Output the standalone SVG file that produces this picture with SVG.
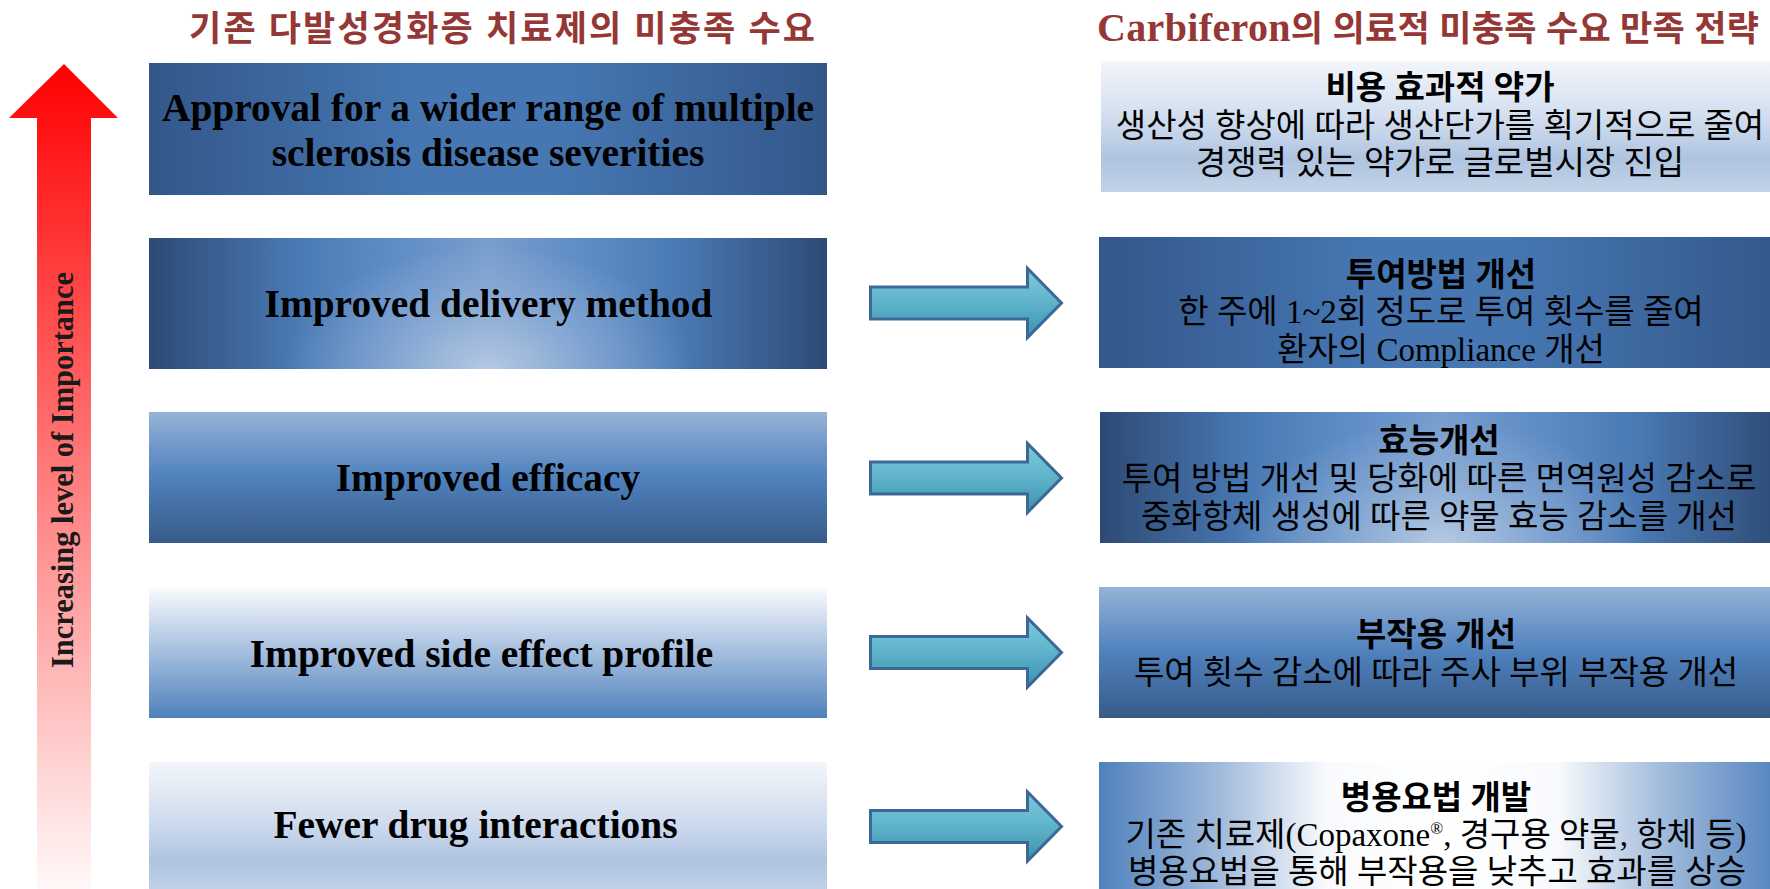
<svg xmlns="http://www.w3.org/2000/svg" width="1770" height="889" viewBox="0 0 1770 889">
  <defs>
    <style>
      .title { font-family: "Liberation Serif", "Noto Sans CJK KR", serif; font-weight: 700; font-size: 35px; fill: #953735; }
      .need { font-family: "Liberation Serif", serif; font-weight: 700; font-size: 39.4px; fill: #000; text-anchor: middle; }
      .sh { font-family: "Liberation Serif", "Noto Sans CJK KR", sans-serif; font-weight: 700; font-size: 33px; fill: #000; text-anchor: middle; }
      .sb { font-family: "Liberation Serif", "Noto Sans CJK KR", sans-serif; font-weight: 400; font-size: 33px; fill: #000; text-anchor: middle; }
      .axis { font-family: "Liberation Serif", serif; font-weight: 700; font-size: 32px; fill: #1a1a1a; text-anchor: middle; }
      .link { fill: url(#gTeal); stroke: #3b6897; stroke-width: 3; stroke-linejoin: miter; }
    </style>
    <!-- steel blue, darker at the sides -->
    <linearGradient id="gSteel" x1="0" y1="0" x2="1" y2="0">
      <stop offset="0" stop-color="#33578a"/>
      <stop offset="0.4" stop-color="#4677b3"/>
      <stop offset="0.6" stop-color="#4677b3"/>
      <stop offset="1" stop-color="#33578a"/>
    </linearGradient>
    <!-- dark sides, glowing middle -->
    <linearGradient id="gGlowH" x1="0" y1="0" x2="1" y2="0">
      <stop offset="0" stop-color="#2d4a74"/>
      <stop offset="0.22" stop-color="#4a7ab5"/>
      <stop offset="0.36" stop-color="#5e8cc6"/>
      <stop offset="0.5" stop-color="#789ecd"/>
      <stop offset="0.64" stop-color="#5e8cc6"/>
      <stop offset="0.78" stop-color="#4a7ab5"/>
      <stop offset="1" stop-color="#2d4a74"/>
    </linearGradient>
    <radialGradient id="gGlowSpot" cx="0" cy="0" r="1" gradientTransform="matrix(0.3 0 0 0.95 0.5 1)">
      <stop offset="0" stop-color="#b8cbe4" stop-opacity="0.95"/>
      <stop offset="0.5" stop-color="#a3bcdc" stop-opacity="0.5"/>
      <stop offset="1" stop-color="#a3bcdc" stop-opacity="0"/>
    </radialGradient>
    <!-- light top, deep bottom -->
    <linearGradient id="gDeep" x1="0" y1="0" x2="0" y2="1">
      <stop offset="0" stop-color="#95b3d7"/>
      <stop offset="0.5" stop-color="#4f81bd"/>
      <stop offset="1" stop-color="#375b88"/>
    </linearGradient>
    <!-- white fading into blue -->
    <linearGradient id="gFade" x1="0" y1="0" x2="0" y2="1">
      <stop offset="0" stop-color="#f8fafd"/>
      <stop offset="1" stop-color="#4f81bd"/>
    </linearGradient>
    <!-- pale blue wash -->
    <linearGradient id="gPale" x1="0" y1="0" x2="0" y2="1">
      <stop offset="0" stop-color="#f3f6fb"/>
      <stop offset="0.45" stop-color="#d0dcee"/>
      <stop offset="0.75" stop-color="#afc4e0"/>
      <stop offset="1" stop-color="#c3d3e8"/>
    </linearGradient>
    <!-- blue sides, white centre -->
    <linearGradient id="gWhiteMid" x1="0" y1="0" x2="1" y2="0">
      <stop offset="0" stop-color="#4f81bd"/>
      <stop offset="0.18" stop-color="#a3bcdc"/>
      <stop offset="0.33" stop-color="#f8fafd"/>
      <stop offset="0.5" stop-color="#ffffff"/>
      <stop offset="0.67" stop-color="#f8fafd"/>
      <stop offset="0.82" stop-color="#a3bcdc"/>
      <stop offset="1" stop-color="#4f81bd"/>
    </linearGradient>
    <linearGradient id="gTeal" x1="0" y1="0" x2="0" y2="1">
      <stop offset="0" stop-color="#7fcadd"/>
      <stop offset="0.5" stop-color="#5eb3ca"/>
      <stop offset="1" stop-color="#3b91ad"/>
    </linearGradient>
    <linearGradient id="gRed" gradientUnits="userSpaceOnUse" x1="0" y1="64" x2="0" y2="889">
      <stop offset="0" stop-color="#ff0000"/>
      <stop offset="1" stop-color="#fff8f8"/>
    </linearGradient>
  </defs>

  <rect x="0" y="0" width="1770" height="889" fill="#ffffff"/>

  <!-- column headings -->
  <g id="headings">
    <text class="title" x="189" y="41" textLength="626">기존 다발성경화증 치료제의 미충족 수요</text>
    <text class="title" x="1097" y="41" textLength="662"><tspan font-size="40">Carbiferon</tspan>의 의료적 미충족 수요 만족 전략</text>
  </g>

  <!-- importance axis -->
  <g id="importance-axis">
    <polygon points="9,118 64,64 118,118 91,118 91,895 37,895 37,118" fill="url(#gRed)"/>
    <text class="axis" transform="translate(73,470) rotate(-90)" x="0" y="0" textLength="396" lengthAdjust="spacingAndGlyphs">Increasing level of Importance</text>
  </g>

  <!-- unmet needs -->
  <g id="need-1">
    <rect x="149" y="63" width="678" height="132" fill="url(#gSteel)"/>
    <text class="need" x="488" y="121">Approval for a wider range of multiple</text>
    <text class="need" x="488" y="166">sclerosis disease severities</text>
  </g>
  <g id="need-2">
    <rect x="149" y="238" width="678" height="131" fill="url(#gGlowH)"/>
    <rect x="149" y="238" width="678" height="131" fill="url(#gGlowSpot)"/>
    <text class="need" x="488.5" y="317">Improved delivery method</text>
  </g>
  <g id="need-3">
    <rect x="149" y="412" width="678" height="131" fill="url(#gDeep)"/>
    <text class="need" x="488" y="491">Improved efficacy</text>
  </g>
  <g id="need-4">
    <rect x="149" y="588" width="678" height="130" fill="url(#gFade)"/>
    <text class="need" x="481.5" y="667">Improved side effect profile</text>
  </g>
  <g id="need-5">
    <rect x="149" y="762" width="678" height="131" fill="url(#gPale)"/>
    <text class="need" x="475.5" y="838">Fewer drug interactions</text>
  </g>

  <!-- strategies -->
  <g id="strategy-1">
    <rect x="1101" y="61" width="683" height="131" fill="url(#gPale)"/>
    <text class="sh" x="1440" y="99">비용 효과적 약가</text>
    <text class="sb" x="1440" y="137">생산성 향상에 따라 생산단가를 획기적으로 줄여</text>
    <text class="sb" x="1440" y="174">경쟁력 있는 약가로 글로벌시장 진입</text>
  </g>
  <g id="strategy-2">
    <rect x="1099" y="237" width="685" height="131" fill="url(#gSteel)"/>
    <text class="sh" x="1441" y="286">투여방법 개선</text>
    <text class="sb" x="1441" y="323">한 주에 1~2회 정도로 투여 횟수를 줄여</text>
    <text class="sb" x="1441" y="361">환자의 Compliance 개선</text>
  </g>
  <g id="strategy-3">
    <rect x="1100" y="412" width="684" height="131" fill="url(#gGlowH)"/>
    <rect x="1100" y="412" width="684" height="131" fill="url(#gGlowSpot)"/>
    <text class="sh" x="1439" y="452">효능개선</text>
    <text class="sb" x="1439" y="490">투여 방법 개선 및 당화에 따른 면역원성 감소로</text>
    <text class="sb" x="1439" y="528">중화항체 생성에 따른 약물 효능 감소를 개선</text>
  </g>
  <g id="strategy-4">
    <rect x="1099" y="587" width="685" height="131" fill="url(#gDeep)"/>
    <text class="sh" x="1436" y="646">부작용 개선</text>
    <text class="sb" x="1436" y="684">투여 횟수 감소에 따라 주사 부위 부작용 개선</text>
  </g>
  <g id="strategy-5">
    <rect x="1099" y="762" width="685" height="131" fill="url(#gWhiteMid)"/>
    <text class="sh" x="1436" y="809">병용요법 개발</text>
    <text class="sb" x="1436" y="846">기존 치료제(Copaxone<tspan font-size="17" dy="-12">®</tspan><tspan dy="12">, 경구용 약물, 항체 등)</tspan></text>
    <text class="sb" x="1437" y="883">병용요법을 통해 부작용을 낮추고 효과를 상승</text>
  </g>

  <!-- connectors: need → strategy -->
  <g id="connectors">
    <polygon class="link" points="870.5,287 1027.5,287 1027.5,268.5 1061.5,303 1027.5,337.5 1027.5,319 870.5,319"/>
    <polygon class="link" points="870.5,462 1027.5,462 1027.5,443.5 1061.5,478 1027.5,512.5 1027.5,494 870.5,494"/>
    <polygon class="link" points="870.5,636.5 1027.5,636.5 1027.5,618 1061.5,652.5 1027.5,687 1027.5,668.5 870.5,668.5"/>
    <polygon class="link" points="870.5,810.5 1027.5,810.5 1027.5,792 1061.5,826.5 1027.5,861 1027.5,842.5 870.5,842.5"/>
  </g>
</svg>
